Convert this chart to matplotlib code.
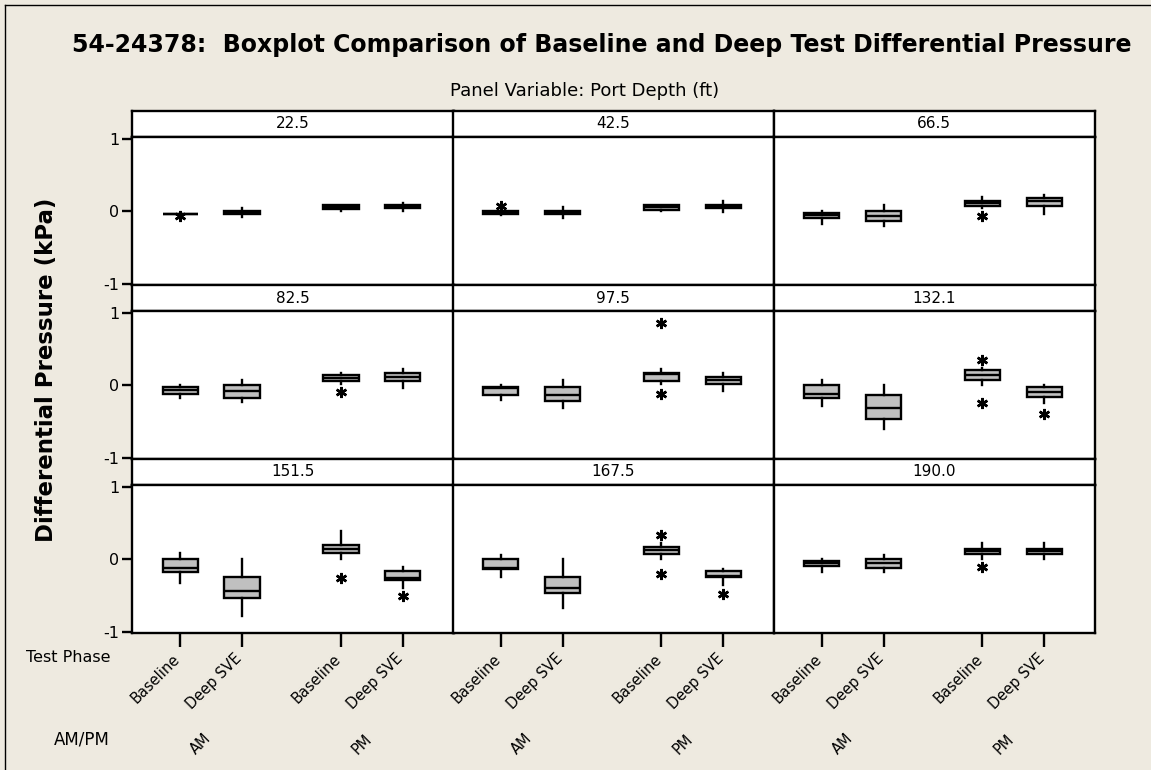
import matplotlib
matplotlib.use("Agg")
import matplotlib.pyplot as plt
from matplotlib.lines import Line2D

plt.rcParams['font.family'] = ['DejaVu Sans']
plt.rcParams['axes.unicode_minus'] = False

# ---------------- data ----------------
panel_labels = ["22.5", "42.5", "66.5", "82.5", "97.5", "132.1", "151.5", "167.5", "190.0"]
test_phase = ["Baseline", "Deep SVE", "Baseline", "Deep SVE"]
am_pm = ["AM", "PM"]

# per panel, per group (AM Baseline, AM Deep SVE, PM Baseline, PM Deep SVE)
q1 = [
    [-0.03, -0.03, 0.03, 0.05],
    [-0.03, -0.03, 0.02, 0.05],
    [-0.09, -0.14, 0.08, 0.08],
    [-0.115, -0.17, 0.055, 0.055],
    [-0.14, -0.22, 0.055, 0.02],
    [-0.17, -0.47, 0.08, -0.165],
    [-0.17, -0.53, 0.085, -0.28],
    [-0.14, -0.47, 0.08, -0.25],
    [-0.09, -0.12, 0.075, 0.075],
]
med = [
    [-0.03, -0.01, 0.06, 0.07],
    [-0.01, -0.01, 0.06, 0.07],
    [-0.05, -0.065, 0.11, 0.14],
    [-0.07, -0.08, 0.10, 0.115],
    [-0.03, -0.14, 0.16, 0.08],
    [-0.115, -0.32, 0.14, -0.09],
    [-0.115, -0.44, 0.15, -0.26],
    [-0.125, -0.39, 0.125, -0.235],
    [-0.05, -0.055, 0.11, 0.11],
]
q3 = [
    [-0.03, 0.01, 0.09, 0.09],
    [0.01, 0.01, 0.09, 0.09],
    [-0.02, 0.01, 0.15, 0.18],
    [-0.02, 0.01, 0.15, 0.175],
    [-0.02, -0.02, 0.17, 0.115],
    [0.01, -0.13, 0.21, -0.02],
    [0.0, -0.245, 0.2, -0.16],
    [0.0, -0.245, 0.17, -0.16],
    [-0.02, 0.01, 0.15, 0.15],
]
whisker_lo = [
    [-0.03, -0.08, 0.0, 0.0],
    [-0.05, -0.09, 0.0, -0.01],
    [-0.17, -0.2, 0.04, -0.03],
    [-0.17, -0.23, 0.02, -0.03],
    [-0.2, -0.31, 0.02, -0.08],
    [-0.28, -0.61, 0.0, -0.25],
    [-0.33, -0.78, 0.0, -0.39],
    [-0.25, -0.67, 0.0, -0.36],
    [-0.175, -0.175, 0.01, 0.0],
]
whisker_hi = [
    [-0.03, 0.05, 0.09, 0.12],
    [0.01, 0.06, 0.09, 0.15],
    [0.01, 0.09, 0.2, 0.23],
    [0.01, 0.07, 0.175, 0.23],
    [0.01, 0.07, 0.23, 0.17],
    [0.07, 0.01, 0.24, 0.01],
    [0.09, 0.0, 0.39, -0.11],
    [0.065, 0.0, 0.23, -0.13],
    [0.01, 0.065, 0.23, 0.23],
]
outliers = [
    [[-0.07], [], [], []],
    [[0.075], [], [], []],
    [[], [], [-0.065], []],
    [[], [], [-0.09], []],
    [[], [], [0.87, -0.12], []],
    [[], [], [0.355, -0.25], [-0.40]],
    [[], [], [-0.26], [-0.505]],
    [[], [], [0.34, -0.2], [-0.48]],
    [[], [], [-0.1], []],
]

# ---------------- layout ----------------
W, H = 1151, 770
BG = "#EEEAE0"
fig = plt.figure(figsize=(W / 100, H / 100), dpi=100, facecolor=BG)

def fx(px):
    return px / W

def fy(py):
    return 1 - py / H

positions = [1.0, 2.0, 3.6, 4.6]
col_left = [132, 452.5, 773.5]
col_w = 321.5
row_top = [111, 285, 459]
strip_h = 26
plot_h = 148
LW = 1.7

# outer border (left & top visible)
fig.add_artist(Line2D([fx(5), fx(5)], [fy(5), fy(772)], color="black", lw=1, transform=fig.transFigure))
fig.add_artist(Line2D([fx(5), fx(1160)], [fy(5), fy(5)], color="black", lw=1, transform=fig.transFigure))

fig.text(fx(602), fy(45), "54-24378:  Boxplot Comparison of Baseline and Deep Test Differential Pressure",
         ha="center", va="center", fontsize=17, fontweight="bold")
fig.text(fx(585), fy(91), "Panel Variable: Port Depth (ft)", ha="center", va="center", fontsize=13)

for i in range(9):
    r, c = divmod(i, 3)
    left = col_left[c]
    top = row_top[r]
    # strip
    sax = fig.add_axes([fx(left), fy(top + strip_h), col_w / W, strip_h / H])
    sax.set_facecolor("white")
    sax.set_xticks([]); sax.set_yticks([])
    for s in sax.spines.values():
        s.set_linewidth(LW)
    sax.text(0.5, 0.5, panel_labels[i], ha="center", va="center", fontsize=11, transform=sax.transAxes)
    # plot
    ax = fig.add_axes([fx(left), fy(top + strip_h + plot_h), col_w / W, plot_h / H])
    ax.set_facecolor("white")
    stats = []
    for g in range(4):
        stats.append(dict(med=med[i][g], q1=q1[i][g], q3=q3[i][g],
                          whislo=whisker_lo[i][g], whishi=whisker_hi[i][g],
                          fliers=outliers[i][g]))
    ax.bxp(stats, positions=positions, widths=0.57, showcaps=False, patch_artist=True,
           boxprops=dict(facecolor="#C0C0C0", edgecolor="black", linewidth=LW),
           medianprops=dict(color="black", linewidth=LW),
           whiskerprops=dict(color="black", linewidth=LW),
           flierprops=dict(marker=(6, 2, 0), markersize=8, markeredgewidth=1.8,
                           markeredgecolor="black", markerfacecolor="black", linestyle="none"))
    ax.set_xlim(0.22, 5.42)
    ax.set_ylim(-1.02, 1.03)
    for s in ax.spines.values():
        s.set_linewidth(LW)
    if c == 0:
        ax.set_yticks([-1, 0, 1])
        ax.set_yticklabels(["-1", "0", "1"], fontsize=11.5)
        ax.tick_params(axis="y", length=7, width=LW, pad=2)
    else:
        ax.set_yticks([])
    if r == 2:
        ax.set_xticks(positions)
        ax.set_xticklabels([])
        ax.tick_params(axis="x", length=10, width=LW, direction="out")
        # rotated Test Phase labels
        for p, lab in zip(positions, test_phase):
            ax.annotate(lab, xy=(p, 0), xycoords=("data", "axes fraction"),
                        xytext=(3, -18), textcoords="offset pixels",
                        rotation=45, ha="right", va="top", fontsize=10.5)
        for k, lab in enumerate(am_pm):
            cx = (positions[2 * k] + positions[2 * k + 1]) / 2
            ax.annotate(lab, xy=(cx, 0), xycoords=("data", "axes fraction"),
                        xytext=(3, -98), textcoords="offset pixels",
                        rotation=45, ha="right", va="top", fontsize=10.5)
    else:
        ax.set_xticks([])

fig.text(fx(110), fy(657), "Test Phase", ha="right", va="center", fontsize=11.5)
fig.text(fx(110), fy(740), "AM/PM", ha="right", va="center", fontsize=12)
fig.text(fx(47), fy(370), "Differential Pressure (kPa)", ha="center", va="center",
         rotation=90, fontsize=16.5, fontweight="bold")

fig.savefig("out.png", dpi=100, facecolor=BG)
